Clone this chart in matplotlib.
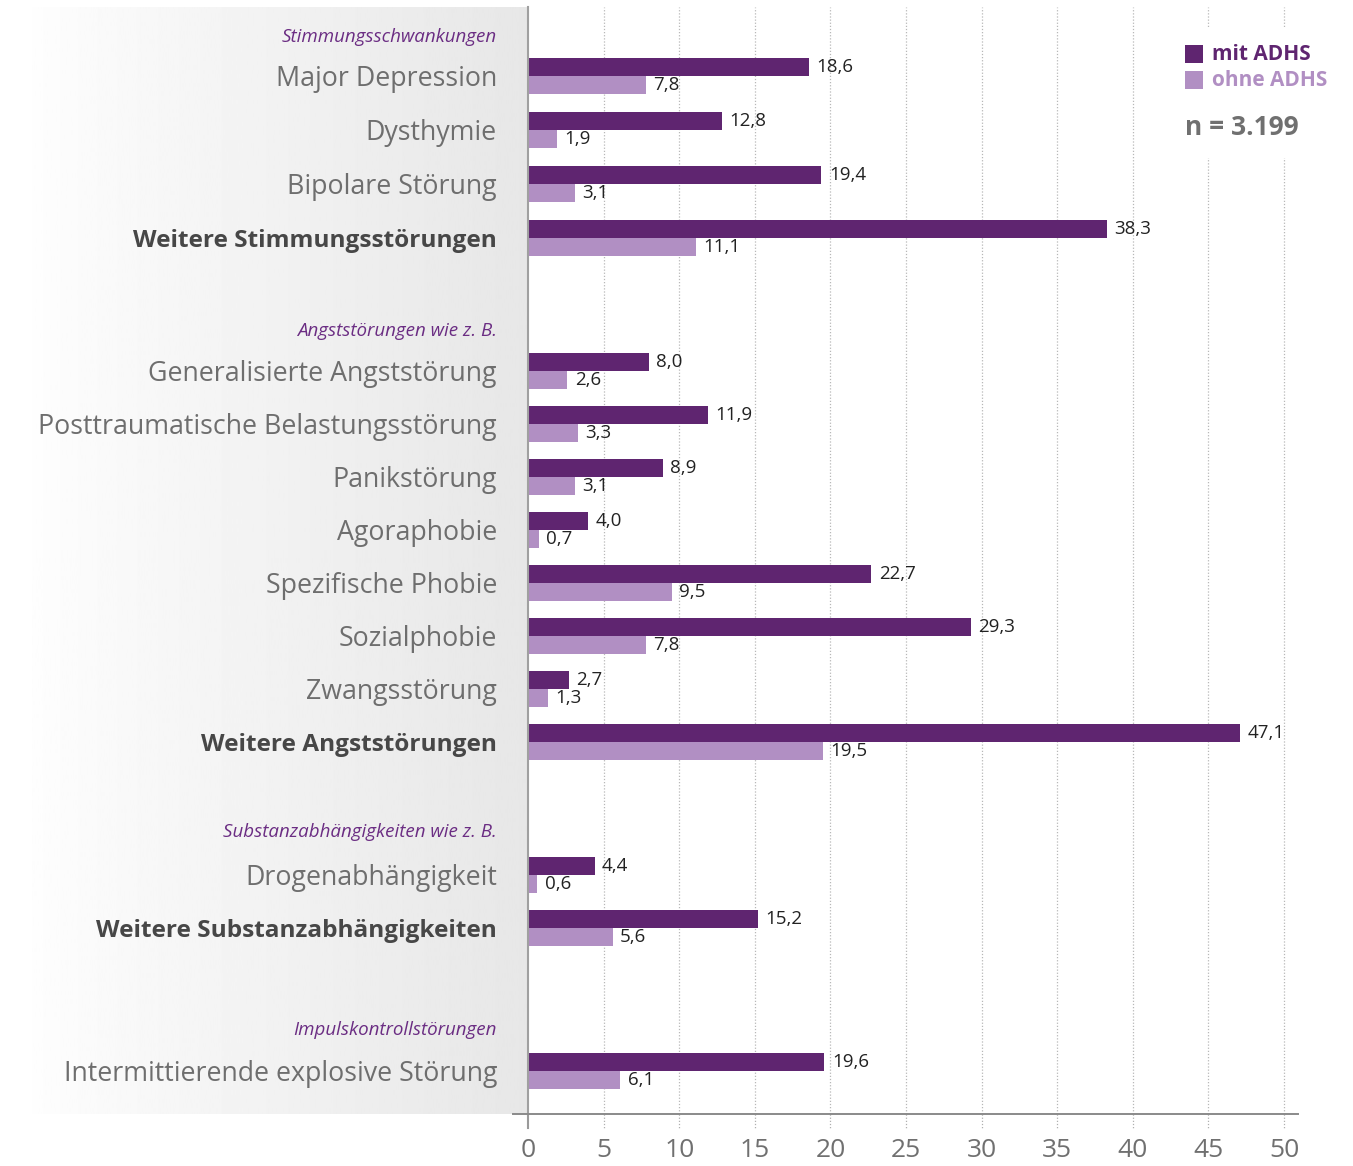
import matplotlib
matplotlib.use("Agg")
import matplotlib.pyplot as plt
import numpy as np
from matplotlib.lines import Line2D
from matplotlib.patches import Rectangle

# ---------------- data ----------------
categories = [
    "Major Depression", "Dysthymie", "Bipolare Störung", "Weitere Stimmungsstörungen",
    "Generalisierte Angststörung", "Posttraumatische Belastungsstörung", "Panikstörung",
    "Agoraphobie", "Spezifische Phobie", "Sozialphobie", "Zwangsstörung",
    "Weitere Angststörungen",
    "Drogenabhängigkeit", "Weitere Substanzabhängigkeiten",
    "Intermittierende explosive Störung",
]
mit_adhs = [18.6, 12.8, 19.4, 38.3, 8.0, 11.9, 8.9, 4.0, 22.7, 29.3, 2.7, 47.1, 4.4, 15.2, 19.6]
ohne_adhs = [7.8, 1.9, 3.1, 11.1, 2.6, 3.3, 3.1, 0.7, 9.5, 7.8, 1.3, 19.5, 0.6, 5.6, 6.1]
bold_rows = ["Weitere Stimmungsstörungen", "Weitere Angststörungen", "Weitere Substanzabhängigkeiten"]
group_titles = ["Stimmungsschwankungen", "Angststörungen wie z. B.",
                "Substanzabhängigkeiten wie z. B.", "Impulskontrollstörungen"]
xticks = [0, 5, 10, 15, 20, 25, 30, 35, 40, 45, 50]
series_names = ["mit ADHS", "ohne ADHS"]
sample_note = "n = 3.199"

# ---------------- layout (pixel-based rows) ----------------
row_y = [76, 130, 184, 238, 371, 424, 477, 530, 583, 636, 689, 742, 875, 928, 1071]
group_y = [37, 331, 832, 1030]
bar_h = 18

C_DARK = "#5f2570"
C_LIGHT = "#b18fc3"
C_HEAD = "#6b2d83"
C_LABEL = "#6e6e6e"
C_BOLD = "#474747"
C_NUM = "#222222"
FONT = ["Open Sans", "DejaVu Sans"]
plt.rcParams["font.family"] = FONT

W, H = 1353, 1166
fig = plt.figure(figsize=(W / 100, H / 100), dpi=100)

# gradient panel on the left
bg = fig.add_axes([32 / W, (H - 1114) / H, (528 - 32) / W, (1114 - 7) / H], zorder=0)
t = np.linspace(0, 1, 400)
vals = 0.995 - 0.09 * t ** 0.9
bg.imshow(vals[None, :], aspect="auto", cmap="gray", vmin=0, vmax=1,
          extent=[0, 1, 0, 1])
bg.set_axis_off()

px_per_unit = (1284 - 528) / 50.0
ax = fig.add_axes([528 / W, (H - 1114) / H, (1298 - 528) / W, (1114 - 7) / H], zorder=1)
ax.set_xlim(0, (1298 - 528) / px_per_unit)
ax.set_ylim(1114, 7)
ax.patch.set_alpha(0)

# grid lines
for xt in xticks[1:]:
    ax.axvline(xt, color="#b8b8b8", lw=0.9, ls=(0, (1, 1.5)), zorder=0.5)
# tick marks below axis (dotted)
for xt in xticks:
    ax.plot([xt, xt], [1114, 1128], color="#b0b0b0" if xt else "#9a9a9a",
            lw=0.9 if xt else 1.5, ls=(0, (1, 1.5)) if xt else "-", clip_on=False, zorder=0.5)

# white box behind legend covering the grid
ax.add_patch(Rectangle(((1172 - 528) / px_per_unit, 28), 12, 130, facecolor="white",
                       edgecolor="none", zorder=0.8, clip_on=False))

# bars
ax.barh([y - bar_h / 2 for y in row_y], mit_adhs, height=bar_h, color=C_DARK, zorder=2)
ax.barh([y + bar_h / 2 for y in row_y], ohne_adhs, height=bar_h, color=C_LIGHT, zorder=2)

fmt = lambda v: f"{v:.1f}".replace(".", ",")
off = 7.5 / px_per_unit
for y, a, b in zip(row_y, mit_adhs, ohne_adhs):
    ax.text(a + off, y - bar_h / 2, fmt(a), va="center", ha="left", fontsize=13.5, color=C_NUM)
    ax.text(b + off, y + bar_h / 2, fmt(b), va="center", ha="left", fontsize=13.5, color=C_NUM)

# category labels
lab_x = -(528 - 497) / px_per_unit
for y, c in zip(row_y, categories):
    bold = c in bold_rows
    ax.text(lab_x, y + 3, c, ha="right", va="center", fontsize=17.6 if bold else 19.3,
            color=C_BOLD if bold else C_LABEL, fontweight="bold" if bold else "normal",
            clip_on=False)
for y, g in zip(group_y, group_titles):
    ax.text(lab_x, y, g, ha="right", va="center", fontsize=13.5, style="italic",
            color=C_HEAD, clip_on=False)

# axes styling
for s in ["top", "right", "bottom"]:
    ax.spines[s].set_visible(False)
ax.spines["left"].set_color("#a0a0a0")
ax.spines["left"].set_linewidth(1.5)
ax.set_yticks([])
ax.set_xticks(xticks)
ax.set_xticklabels([str(x) for x in xticks], fontsize=19, color="#707070")
ax.tick_params(axis="x", length=0, pad=17)

# bottom axis line
fig.add_artist(Line2D([513 / W, 1298 / W], [(H - 1114) / H] * 2, color="#8a8a8a", lw=1.4))

# legend
lx = (1185 - 528) / px_per_unit
sq = 18 / px_per_unit
for i, (name, col) in enumerate(zip(series_names, [C_DARK, C_LIGHT])):
    yc = 54 + 26 * i
    ax.add_patch(Rectangle((lx, yc - 9), sq, 18, facecolor=col, edgecolor="none",
                           zorder=3, clip_on=False))
    ax.text(lx + (27 / px_per_unit), yc, name, ha="left", va="center", fontsize=15,
            fontweight="bold", color=col, clip_on=False, zorder=3)
ax.text(lx, 127, sample_note, ha="left", va="center", fontsize=19, fontweight="bold",
        color="#707070", clip_on=False, zorder=3)

fig.savefig("out.png", dpi=100)
